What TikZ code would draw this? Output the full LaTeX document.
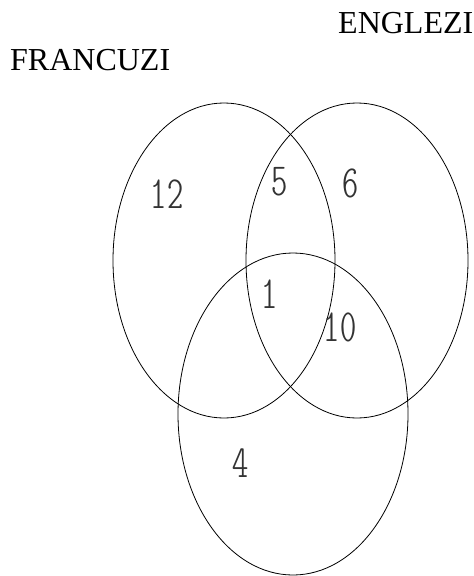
\documentclass[tikz,border=0pt]{standalone}
\usepackage{fontspec}
\setmainfont{Liberation Serif}

\begin{document}
\begin{tikzpicture}[
    x=1pt, y=-1pt,
    set/.style={draw, line width=0.8pt},
    lbl/.style={font=\fontsize{32}{38}\selectfont, anchor=base west, inner sep=0pt},
    num/.style={font=\fontfamily{lmtt}\fontseries{lc}\fontsize{46}{50}\selectfont, text=black!80, inner sep=0pt}
]
\useasboundingbox (0,0) rectangle (474,576);
% the three sets
\draw[set] (224,260.5) ellipse [x radius=111, y radius=157.5];
\draw[set] (357,260.5) ellipse [x radius=111, y radius=157.5];
\draw[set] (293,414) ellipse [x radius=115, y radius=161];
% set names
\node[lbl] (engl) at (338,33) {ENGLEZI};
\node[lbl] (fran) at (10,70) {FRANCUZI};
% counts
\node[num] (n12) at (167,194.5) {12};
\node[num] (n5) at (280,181.5) {5};
\node[num] (n6) at (350.5,183.5) {6};
\node[num] (n1) at (270,294) {1};
\node[num] (n10) at (340,327) {10};
\node[num] (n4) at (241,463) {4};
\end{tikzpicture}
\end{document}
